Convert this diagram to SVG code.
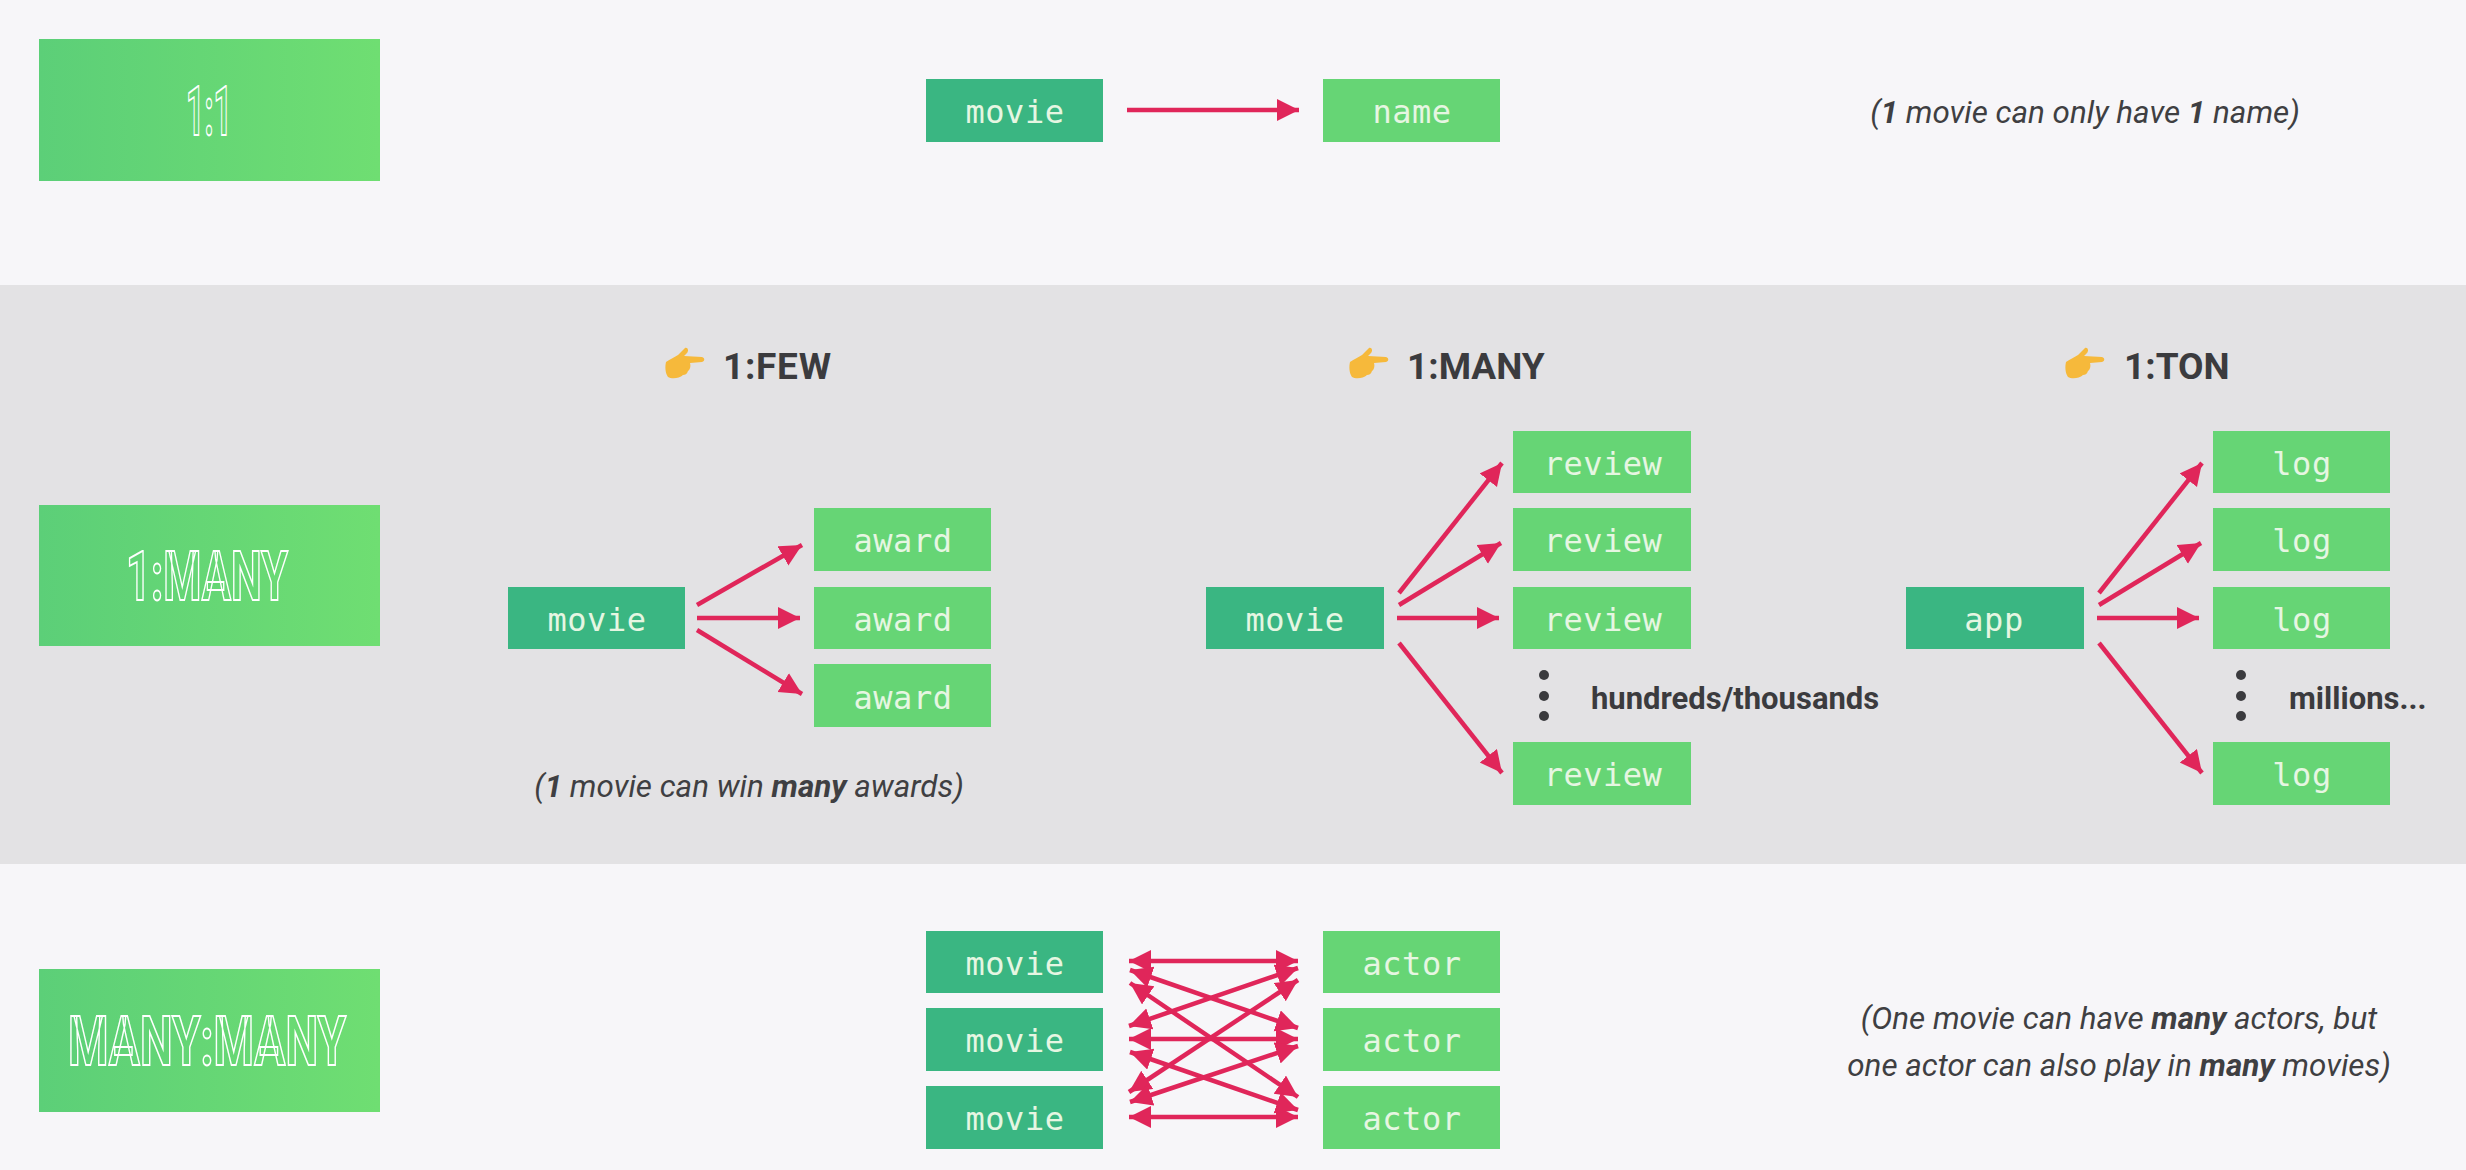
<svg xmlns="http://www.w3.org/2000/svg" width="2466" height="1170" viewBox="0 0 2466 1170">
<style>
.mono{font-family:"DejaVu Sans Mono","Liberation Mono",monospace;font-size:32px;letter-spacing:.5px;fill:#e6f6e2;text-anchor:middle;transform:translateY(1px)}
.lt{fill:#66d575}.dk{fill:#3ab682}
.title{font-family:Roboto,"Liberation Sans",sans-serif;font-weight:700;font-size:69px;fill:none;stroke:#fff;stroke-width:2;text-anchor:middle}
.note{font-family:Roboto,"Liberation Sans",sans-serif;font-style:italic;font-size:31.4px;fill:#3f3f42;text-anchor:middle}
.note tspan{font-weight:700}
.head{font-family:Roboto,"Liberation Sans",sans-serif;font-weight:700;font-size:37px;fill:#3b3b3e}
.side{font-family:Roboto,"Liberation Sans",sans-serif;font-weight:700;font-size:31px;fill:#3b3b3e}
#connectors line{stroke:#e0265a;stroke-width:4.5;marker-end:url(#ah)}
#connectors .both{marker-start:url(#ah)}
.dot{fill:#3b3b3e}
</style>
<defs>
<marker id="ah" markerUnits="userSpaceOnUse" markerWidth="26" markerHeight="26" refX="22" refY="11" orient="auto-start-reverse"><path d="M0 0L22 11L0 22Z" fill="#e0265a"/></marker>
<linearGradient id="tg"><stop offset="0" stop-color="#5ccf78"/><stop offset="1" stop-color="#6fde72"/></linearGradient>
<g id="hand"><path d="M0 12C4 9 9 7 12 5L19 -2C22 -3 23 1 21 3L18 6L36 7C39 8 39 11 36 12L24 13C25 16 24 20 22 21C21 24 19 25 17 25C13 29 5 29 2 27C-1 23 -1 16 0 12Z" fill="#f6b93b"/></g>
</defs>
<rect width="2466" height="1170" fill="#f7f6f9"/>
<rect y="285" width="2466" height="579" fill="#e3e2e4"/>

<g id="title-1-1"><rect x="39" y="39" width="341" height="142" fill="url(#tg)"/><text class="title" x="209" y="135" textLength="46" lengthAdjust="spacingAndGlyphs">1:1</text></g>
<g id="title-1-many"><rect x="39" y="505" width="341" height="141" fill="url(#tg)"/><text class="title" x="207" y="600" textLength="162" lengthAdjust="spacingAndGlyphs">1:MANY</text></g>
<g id="title-many-many"><rect x="39" y="969" width="341" height="143" fill="url(#tg)"/><text class="title" x="207" y="1065" textLength="278" lengthAdjust="spacingAndGlyphs">MANY:MANY</text></g>

<g id="connectors">
<line x1="1127" y1="110" x2="1299" y2="110"/>
<line x1="697" y1="605" x2="802" y2="545"/>
<line x1="697" y1="618" x2="800" y2="618"/>
<line x1="697" y1="630" x2="802" y2="694"/>
<line x1="1399" y1="593" x2="1502" y2="463"/>
<line x1="1399" y1="605" x2="1501" y2="543"/>
<line x1="1397" y1="618" x2="1499" y2="618"/>
<line x1="1399" y1="643" x2="1502" y2="773"/>
<line x1="2099" y1="593" x2="2202" y2="463"/>
<line x1="2099" y1="605" x2="2201" y2="543"/>
<line x1="2097" y1="618" x2="2199" y2="618"/>
<line x1="2099" y1="643" x2="2202" y2="773"/>
<line class="both" x1="1129" y1="961" x2="1298" y2="961"/>
<line class="both" x1="1129" y1="1039" x2="1298" y2="1039"/>
<line class="both" x1="1129" y1="1117" x2="1298" y2="1117"/>
<line class="both" x1="1130" y1="970" x2="1298" y2="1028"/>
<line class="both" x1="1130" y1="983" x2="1298" y2="1097"/>
<line class="both" x1="1129" y1="1026" x2="1298" y2="968"/>
<line class="both" x1="1129" y1="1092" x2="1298" y2="980"/>
<line class="both" x1="1130" y1="1052" x2="1298" y2="1110"/>
<line class="both" x1="1130" y1="1102" x2="1298" y2="1046"/>
</g>

<g id="node-movie-top"><rect class="dk" x="926" y="79" width="177" height="63"/><text class="mono" x="1015" y="122">movie</text></g>
<g id="node-name"><rect class="lt" x="1323" y="79" width="177" height="63"/><text class="mono" x="1412" y="122">name</text></g>
<text class="note" x="2085" y="123">(<tspan>1</tspan> movie can only have <tspan>1</tspan> name)</text>

<use href="#hand" x="666" y="350"/>
<text class="head" x="723" y="379" textLength="108">1:FEW</text>
<use href="#hand" x="1350" y="350"/>
<text class="head" x="1407" y="379">1:MANY</text>
<use href="#hand" x="2066" y="350"/>
<text class="head" x="2124" y="379">1:TON</text>

<g id="node-movie-few"><rect class="dk" x="508" y="587" width="177" height="62"/><text class="mono" x="597" y="630">movie</text></g>
<g id="node-award-1"><rect class="lt" x="814" y="508" width="177" height="63"/><text class="mono" x="903" y="551">award</text></g>
<g id="node-award-2"><rect class="lt" x="814" y="587" width="177" height="62"/><text class="mono" x="903" y="630">award</text></g>
<g id="node-award-3"><rect class="lt" x="814" y="664" width="177" height="63"/><text class="mono" x="903" y="708">award</text></g>
<text class="note" x="749" y="797">(<tspan>1</tspan> movie can win <tspan>many</tspan> awards)</text>

<g id="node-movie-many"><rect class="dk" x="1206" y="587" width="178" height="62"/><text class="mono" x="1295" y="630">movie</text></g>
<g id="node-review-1"><rect class="lt" x="1513" y="431" width="178" height="62"/><text class="mono" x="1603" y="474">review</text></g>
<g id="node-review-2"><rect class="lt" x="1513" y="508" width="178" height="63"/><text class="mono" x="1603" y="551">review</text></g>
<g id="node-review-3"><rect class="lt" x="1513" y="587" width="178" height="62"/><text class="mono" x="1603" y="630">review</text></g>
<g id="node-review-4"><rect class="lt" x="1513" y="742" width="178" height="63"/><text class="mono" x="1603" y="785">review</text></g>
<circle class="dot" cx="1544" cy="675" r="5"/><circle class="dot" cx="1544" cy="696" r="5"/><circle class="dot" cx="1544" cy="716" r="5"/>
<text class="side" x="1591" y="709">hundreds/thousands</text>

<g id="node-app"><rect class="dk" x="1906" y="587" width="178" height="62"/><text class="mono" x="1994" y="630">app</text></g>
<g id="node-log-1"><rect class="lt" x="2213" y="431" width="177" height="62"/><text class="mono" x="2302" y="474">log</text></g>
<g id="node-log-2"><rect class="lt" x="2213" y="508" width="177" height="63"/><text class="mono" x="2302" y="551">log</text></g>
<g id="node-log-3"><rect class="lt" x="2213" y="587" width="177" height="62"/><text class="mono" x="2302" y="630">log</text></g>
<g id="node-log-4"><rect class="lt" x="2213" y="742" width="177" height="63"/><text class="mono" x="2302" y="785">log</text></g>
<circle class="dot" cx="2241" cy="675" r="5"/><circle class="dot" cx="2241" cy="696" r="5"/><circle class="dot" cx="2241" cy="716" r="5"/>
<text class="side" x="2289" y="709">millions...</text>

<g id="node-movie-a"><rect class="dk" x="926" y="931" width="177" height="62"/><text class="mono" x="1015" y="974">movie</text></g>
<g id="node-movie-b"><rect class="dk" x="926" y="1008" width="177" height="63"/><text class="mono" x="1015" y="1051">movie</text></g>
<g id="node-movie-c"><rect class="dk" x="926" y="1086" width="177" height="63"/><text class="mono" x="1015" y="1129">movie</text></g>
<g id="node-actor-a"><rect class="lt" x="1323" y="931" width="177" height="62"/><text class="mono" x="1412" y="974">actor</text></g>
<g id="node-actor-b"><rect class="lt" x="1323" y="1008" width="177" height="63"/><text class="mono" x="1412" y="1051">actor</text></g>
<g id="node-actor-c"><rect class="lt" x="1323" y="1086" width="177" height="63"/><text class="mono" x="1412" y="1129">actor</text></g>
<text class="note" x="2119" y="1029">(One movie can have <tspan>many</tspan> actors, but</text>
<text class="note" x="2119" y="1076">one actor can also play in <tspan>many</tspan> movies)</text>
</svg>
